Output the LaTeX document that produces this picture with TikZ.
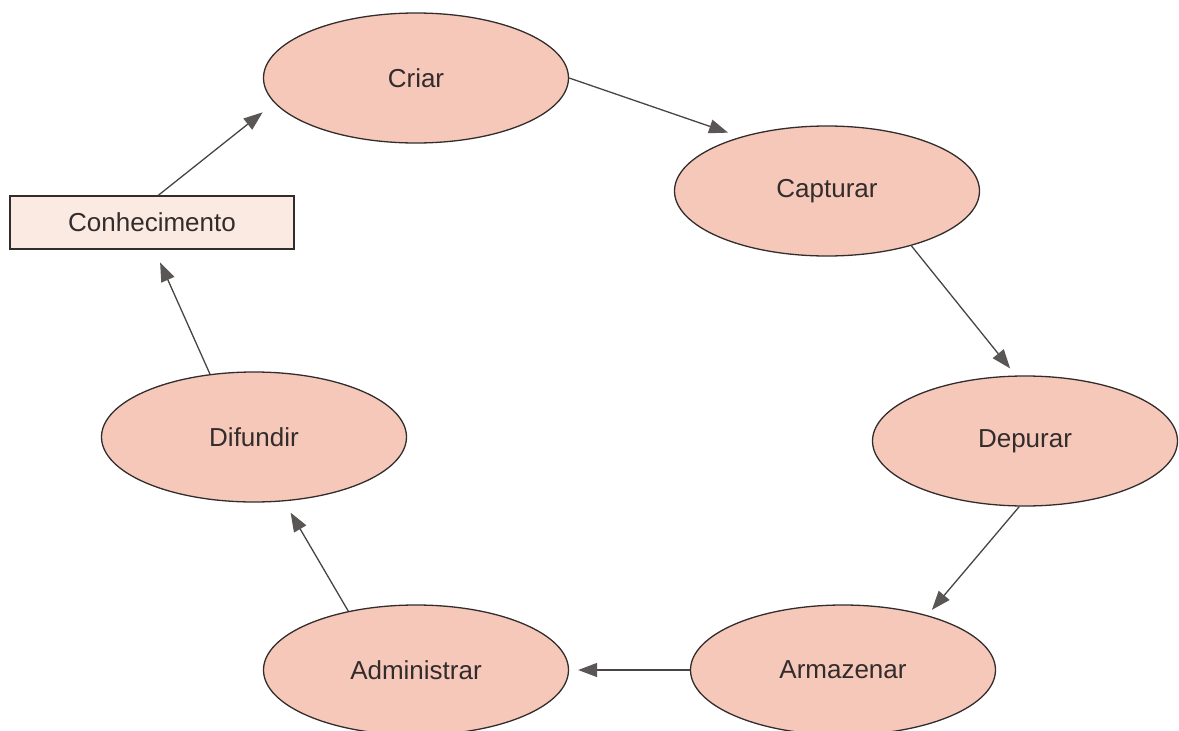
\documentclass[tikz,border=0pt]{standalone}
\usepackage{fontspec}
\setmainfont{Liberation Sans}
\usetikzlibrary{shapes.geometric,arrows.meta}
\definecolor{stagefill}{RGB}{246,200,185}
\definecolor{boxfill}{RGB}{251,234,226}
\definecolor{edge}{RGB}{50,45,45}
\definecolor{linkcol}{RGB}{72,68,68}
\definecolor{headcol}{RGB}{90,86,86}
\definecolor{textcol}{RGB}{50,44,44}
\begin{document}
\begin{tikzpicture}[x=1pt,y=-1pt,
  stage/.style={ellipse,draw=edge,line width=1.3pt,fill=stagefill,
    minimum width=305pt,minimum height=130pt,inner sep=0pt,
    font=\fontsize{26}{30}\selectfont,text=textcol},
  sourcebox/.style={rectangle,draw=edge,line width=1.3pt,fill=boxfill,
    minimum width=284pt,minimum height=53pt,inner sep=0pt,
    font=\fontsize{26}{30}\selectfont,text=textcol},
  link/.style={draw=linkcol,line width=1.3pt,
    -{Triangle[length=19pt,width=14pt,color=headcol,fill=headcol]}}]
  \useasboundingbox (0,0) rectangle (1179,731);
  % the knowledge cycle
  \node[stage] (criar) at (416,78) {Criar};
  \node[stage] (capt)  at (827,191) {Capturar};
  \node[stage] (dep)   at (1025,441) {Depurar};
  \node[stage] (arm)   at (843,670) {Armazenar};
  \node[stage] (adm)   at (416,670) {Administrar};
  \node[stage] (dif)   at (254,437) {Difundir};
  \node[sourcebox] (con) at (152,222.5) {Conhecimento};
  % connectors
  \draw[link,shorten >=15pt] (con.77) -- (criar.190);
  \draw[link,shorten >=13pt] (criar.east) -- (capt.148);
  \draw[link,shorten >=9pt]  (capt.327) -- (dep.98);
  \draw[link,shorten >=7pt]  (dep.265) -- (arm.33.5);
  \draw[link,shorten >=9pt]  (arm.west) -- (adm.east);
  \draw[link,shorten >=13pt] (adm.139.5) -- (dif.295);
  \draw[link,shorten >=14pt] (dif.125) -- (con.275);
\end{tikzpicture}
\end{document}
